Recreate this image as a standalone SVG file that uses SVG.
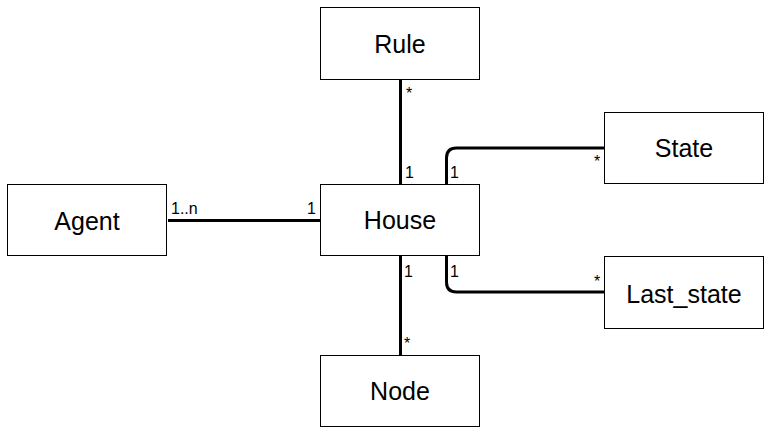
<svg xmlns="http://www.w3.org/2000/svg" width="772" height="438" viewBox="0 0 772 438">
<style>
.box{fill:#fff;stroke:#000;stroke-width:1}
.name{font-family:"Liberation Sans",Arial,sans-serif;font-size:25px;text-anchor:middle;fill:#000}
.conn{fill:none;stroke:#000;stroke-width:3}
.lbl{font-family:"Liberation Sans",Arial,sans-serif;font-size:16px;fill:#000}
</style>
<rect width="772" height="438" fill="#fff"/>
<g id="connectors">
<path class="conn" d="M400.5 80 V184"/>
<path class="conn" d="M446.5 184 V158 Q446.5 148 456.5 148 H604"/>
<path class="conn" d="M446.5 256 V282 Q446.5 292 456.5 292 H604"/>
<path class="conn" d="M168 220.5 H320"/>
<path class="conn" d="M400.5 256 V355"/>
<text class="lbl" x="406" y="99">*</text>
<text class="lbl" x="405" y="178">1</text>
<text class="lbl" x="450" y="178">1</text>
<text class="lbl" x="594" y="167">*</text>
<text class="lbl" x="171" y="214">1..n</text>
<text class="lbl" x="307" y="214">1</text>
<text class="lbl" x="404" y="277">1</text>
<text class="lbl" x="450" y="277">1</text>
<text class="lbl" x="594" y="287">*</text>
<text class="lbl" x="404" y="349">*</text>
</g>
<g id="rule"><rect class="box" x="320.5" y="7.5" width="159" height="72"/><text class="name" x="400" y="53">Rule</text></g>
<g id="house"><rect class="box" x="320.5" y="184.5" width="159" height="71"/><text class="name" x="400" y="229">House</text></g>
<g id="agent"><rect class="box" x="7.5" y="184.5" width="159" height="71"/><text class="name" x="87" y="230">Agent</text></g>
<g id="state"><rect class="box" x="604.5" y="112.5" width="159" height="71"/><text class="name" x="684" y="157">State</text></g>
<g id="last_state"><rect class="box" x="604.5" y="256.5" width="159" height="72"/><text class="name" x="684" y="303">Last_state</text></g>
<g id="node"><rect class="box" x="320.5" y="355.5" width="159" height="71"/><text class="name" x="400" y="400">Node</text></g>
</svg>
